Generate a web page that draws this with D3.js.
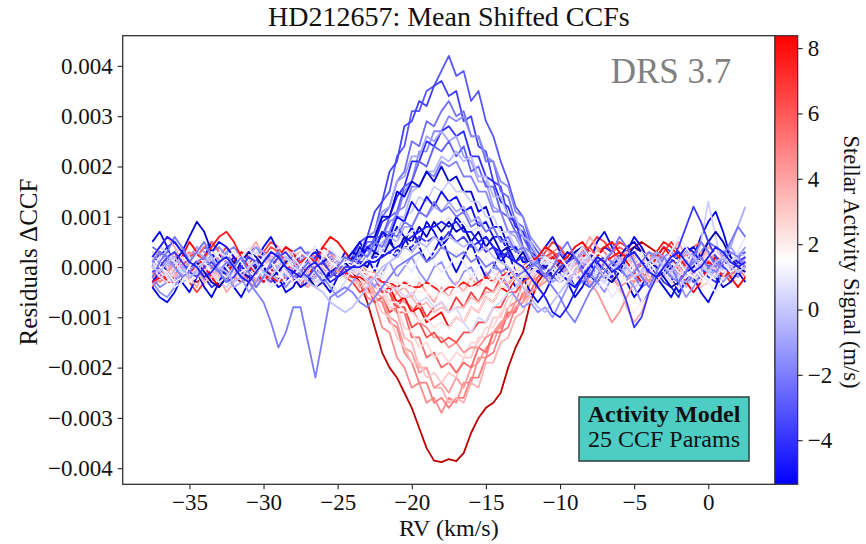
<!DOCTYPE html>
<html><head><meta charset="utf-8">
<script src="https://cdn.jsdelivr.net/npm/d3@7"></script>
<style>
body{margin:0;background:#fff}
text{font-family:"Liberation Serif","Times New Roman",serif;fill:#111}
</style>
</head><body>
<svg id="c" width="866" height="544"></svg>
<script>
// ---------------- DATA ----------------
// RV grid (km/s)
const rv = [-37.5,-37,-36.5,-36,-35.5,-35,-34.5,-34,-33.5,-33,-32.5,-32,-31.5,-31,-30.5,-30,-29.5,-29,-28.5,-28,-27.5,-27,-26.5,-26,-25.5,-25,-24.5,-24,-23.5,-23,-22.5,-22,-21.5,-21,-20.5,-20,-19.5,-19,-18.5,-18,-17.5,-17,-16.5,-16,-15.5,-15,-14.5,-14,-13.5,-13,-12.5,-12,-11.5,-11,-10.5,-10,-9.5,-9,-8.5,-8,-7.5,-7,-6.5,-6,-5.5,-5,-4.5,-4,-3.5,-3,-2.5,-2,-1.5,-1,-0.5,0,0.5,1,1.5,2,2.5];
// residual CCF values, in units of 1e-4
const s01 = [2,3,1,-1,-2,0,2,4,3,1,-1,-3,-2,0,1,3,2,0,-2,-3,-1,1,2,1,0,-1,0, 1,3,6,7,13,15,22,24,31,31,35,36,39,42,38,39,33,35,29,26,21,17,12,10,5,3, 1,-1,-3,-2,0,2,3,1,-1,-2,0,2,1,-1,-3,-2,0,1,3,2,0,-1,1,2,0,-2,-1,1];
const s02 = [-2,-1,1,3,4,2,0,-1,-3,-4,-2,0,2,3,1,-1,0,2,4,3,1,-1,-2,0,1,-1,-2, 2,5,6,11,13,19,21,28,29,33,32,36,37,34,35,29,30,24,23,17,16,10,9,4,3,0, -1,0,2,1,-1,-3,-4,-2,1,3,2,0,-2,-1,1,2,4,3,1,-1,-3,-2,0,2,3,1,0,2];
const s03 = [4,3,1,0,-2,-3,-1,1,2,0,-2,-1,1,3,4,2,-1,-3,-2,0,2,3,1,-1,-2,0,1, 0,2,5,5,10,12,17,19,25,24,29,28,31,33,30,31,26,26,21,21,15,14,9,8,4,2, 0,-2,-3,-1,2,4,3,0,-2,-1,1,0,-2,-4,-3,-1,1,2,0,-1,1,3,5,4,2,0,-1,0];
const s04 = [-3,-2,0,2,1,-1,-2,0,3,4,2,0,-1,-3,-2,1,2,3,1,-1,-3,-4,-2,0,2,1,-1, 0,2,1,5,6,9,10,15,17,23,23,27,27,30,29,30,26,26,22,21,17,16,11,10,6,4, 2,0,-1,1,3,2,0,-2,-3,-1,0,2,1,-2,-3,-1,2,3,1,0,-2,-1,1,3,2,-1,-2,0];
const s05 = [0,2,4,5,3,1,-1,-2,-4,-3,-1,1,0,-2,-1,1,3,2,0,-2,-3,-1,2,3,1,0,-1, 1,1,4,5,9,10,14,16,21,21,25,24,27,28,26,27,22,22,18,17,13,12,8,7,3,2, -2,-1,0,2,1,-1,0,2,4,3,1,-1,-2,0,1,-1,-3,-4,-6,-2,1,0,-2,-3,-1,1,2,3];
const s06 = [1,-1,-2,-1,1,2,4,3,1,-1,-2,-4,-3,0,2,1,-1,0,2,1,-1,-3,-2,0,1,2,0, 2,3,6,7,11,12,17,18,22,22,26,25,27,25,26,22,21,17,17,12,11,7,6,3,2,0, 1,2,0,-2,-4,-3,-1,1,2,1,-1,-2,0,2,3,1,-1,-2,-1,1,0,-2,-1,1,3,4,2,1];
const s07 = [3,1,0,-2,-3,-2,0,1,3,2,0,-1,1,2,0,-2,-3,-1,1,3,4,2,0,-1,-2,-1,1, -1,2,3,6,6,10,11,16,17,21,20,24,23,25,22,24,19,20,16,16,11,10,7,6,3,1, -1,-3,-2,0,1,3,2,0,-2,-1,1,3,2,0,-1,0,2,1,-1,-3,-2,0,2,1,-1,0,2,3];
const s08 = [-1,0,1,-1,-3,-2,0,2,3,1,0,-2,-1,1,2,0,-1,-3,-2,0,1,-1,-2,0,2,1,0, 1,0,2,2,5,6,10,10,15,16,19,19,22,21,23,21,22,18,18,14,14,10,10,6,5,2, 2,1,-1,-2,0,1,-1,-3,-2,0,2,3,1,-1,0,2,1,-1,-2,-4,-2,0,1,-1,0,2,1,-1];
const s09 = [-2,-4,-3,-1,0,2,1,-1,-2,0,3,4,2,0,-2,-3,-1,0,2,1,-1,-2,0,1,3,2,0, 1,0,3,3,7,7,11,12,16,16,19,18,21,20,21,18,18,15,15,11,11,7,7,4,3,1, 0,2,3,1,-1,-3,-2,0,2,1,-1,0,-2,-3,-1,1,2,0,-1,1,3,2,0,-2,-1,0,1,-1];
const s10 = [0,3,2,1,3,6,9,7,3,0,2,1,-1,-2,0,1,3,2,0,-2,-4,-3,-1,1,2,0,1, 3,2,6,6,10,10,15,14,17,16,19,17,20,17,18,15,15,11,12,8,8,4,4,1,1,-1, -2,-1,1,3,2,0,-2,-3,-1,0,2,4,5,3,1,-1,-2,0,1,3,4,2,0,-2,-4,-3,-1,0];
const s11 = [2,4,3,1,-1,0,2,1,-1,-3,-4,-2,0,1,3,2,0,-1,1,3,2,-1,-3,-2,0,1,2, -1,1,1,4,4,7,7,10,11,14,13,16,15,17,15,15,13,13,10,10,7,7,4,4,2,0, 1,-1,-2,0,2,1,-1,0,2,3,1,-2,-4,-3,-1,0,2,1,0,-2,-1,5,13,6,-1,1,3,2];
const s12 = [-3,-1,1,2,0,-2,-1,1,3,5,4,2,0,-1,1,0,-2,-4,-3,-1,0,2,3,1,-1,-2,-1, 2,1,4,3,7,6,10,9,13,11,14,12,15,13,14,11,12,8,9,6,6,3,4,1,1,-1, 0,1,-1,-3,-4,-2,0,1,-1,-2,0,2,3,1,0,-2,-1,1,2,4,3,1,-1,-2,0,2,1,0];
const s13 = [1,0,-2,-3,-1,1,3,2,0,-1,-3,-2,0,2,4,3,1,-1,-2,0,-1,-3,-2,0,2,1,0, 0,2,0,3,3,6,5,8,8,11,10,12,11,13,11,12,9,10,7,8,5,5,3,3,1,1, -1,-3,-2,0,1,3,2,0,-1,1,2,0,-2,-1,1,3,2,0,-2,-3,-1,1,0,-2,1,4,8,12];
const s14 = [0,-2,-3,-1,1,2,0,-1,1,3,2,0,-2,-3,-1,2,3,1,-1,-2,0,1,-1,-2,0,2,1, 1,-1,2,1,4,3,5,6,7,8,7,9,8,10,8,9,7,8,5,6,4,4,2,3,1,0, 2,0,-1,1,2,0,-2,-4,-3,-1,1,0,-1,1,3,2,0,-1,-3,-2,0,1,-1,0,2,1,-1,1];
const s15 = [2,1,-1,-3,-2,0,1,-1,-3,-4,-2,0,1,3,2,0,-2,-1,1,2,0,-2,-4,-3,-1,0,1, -1,1,0,3,2,5,3,6,5,8,6,9,7,9,7,8,5,7,4,6,3,4,1,3,0,1, 0,-2,-1,1,3,4,2,0,-2,-3,-1,2,4,3,1,0,-2,-4,-3,-1,0,2,5,7,5,2,0,-1];
const s16 = [-1,0,2,3,1,-1,-2,0,1,-1,-3,-2,0,2,1,-1,0,2,3,1,-1,-2,0,1,-1,-2,0, 0,1,1,2,2,3,2,4,4,6,5,6,5,7,5,6,4,5,3,4,2,3,1,2,0,1, -1,-2,0,1,2,0,-2,1,2,0,-3,-7,-12,-10,-5,-2,0,1,4,8,12,9,5,2,0,-1,1,2];
const s17 = [1,3,2,0,-2,-1,1,2,0,-1,1,0,-2,-3,-5,-7,-11,-16,-13,-8,-8,-15,-22,-14,-6,-5,-4, -5,-7,-8,-6,-4,-2,0,1,2,3,1,2,4,3,2,3,1,2,0,1,-1,0,-2,-1,0,1, -2,-4,-6,-9,-11,-8,-5,-3,-1,1,0,-2,-1,1,3,2,0,-2,-3,-1,1,2,0,-1,1,3,2,0];
const s18 = [2,0,-1,-3,-2,0,2,1,-1,0,2,3,1,-1,-2,0,1,-1,-3,-2,0,2,4,3,1,0,1, 1,0,2,1,3,2,4,3,5,4,5,3,4,5,3,4,2,3,1,2,0,1,-1,0,1,0, -1,1,2,0,-2,-1,1,3,2,0,-1,-3,-2,0,1,-1,0,2,1,-1,-2,0,2,3,1,-1,0,1];
const s19 = [-1,1,2,0,-2,-3,-1,1,3,2,0,-2,-1,0,2,1,-1,-2,0,1,3,2,0,-1,-3,-2,-1, 0,-1,-2,0,-1,-3,-2,-4,-3,-2,-4,-3,-5,-3,-4,-2,-3,-1,-3,-2,0,-1,1,0,-1,0, 2,1,-1,-2,0,1,3,2,0,-1,-3,-2,0,2,1,0,-2,-1,1,2,0,-2,-3,-1,1,2,0,-1];
const s20 = [0,2,3,1,-1,-2,0,1,-1,-3,-2,0,2,1,-1,0,1,3,2,0,-1,-3,-4,-2,-3,-5,-3, 0,-1,-3,-2,-4,-5,-4,-6,-5,-7,-6,-8,-7,-9,-8,-11,-13,-10,-11,-8,-7,-5,-4,-2,-1,0, 1,0,-2,-1,1,2,0,-2,-3,-1,0,2,1,-1,0,1,-1,-3,-2,0,2,1,-1,-2,0,1,2,0];
const s21 = [-3,-2,-3,-2,-1,-2,-3,-2,-1,0,-1,-2,-3,-2,-1,0,1,0,-1,-2,-1,0,1,0,-1,-1,0, -1,-3,-7,-12,-17,-20,-22,-25,-28,-32,-36,-38.5,-38.8,-38.2,-38.6,-37,-33,-30,-28,-27,-25,-20,-16,-13,-7,-3, -1,0,1,2,1,0,1,3,4,3,2,3,4,5,4,3,2,1,0,-1,0,1,2,1,-1,-2,-1,0];
const s22 = [2,3,1,-1,0,2,4,3,1,-1,-2,0,1,-1,-3,-2,0,2,3,1,0,-2,-1,1,0,-1,-2, -2,-3,-6,-7,-12,-13,-18,-20,-24,-23,-27,-26,-29,-26,-27,-23,-23,-18,-18,-13,-12,-8,-7,-3,-2,0, 1,3,4,2,0,-1,1,2,0,-2,-4,-3,-1,1,2,0,-1,1,3,2,0,-2,-1,1,2,0,-1,0];
const s23 = [-1,-3,-2,0,2,3,1,-1,-2,0,2,1,-1,-3,-4,-2,0,1,-1,0,2,3,2,0,-2,-1,0, -1,-2,-3,-6,-7,-11,-12,-17,-19,-23,-23,-27,-26,-28,-26,-26,-22,-22,-18,-17,-13,-12,-8,-7,-3,-2, 0,2,1,-1,-2,0,2,4,3,1,0,-2,-3,-1,1,0,-2,-1,1,3,4,2,0,-2,-1,1,0,-2];
const s24 = [1,0,-2,-3,-1,1,2,0,-2,-1,1,3,2,0,-1,-3,-2,0,1,-1,-2,0,2,1,-1,0,1, 0,-1,-1,-4,-5,-8,-9,-14,-15,-20,-20,-24,-24,-27,-26,-27,-23,-24,-19,-19,-15,-14,-10,-9,-5,-4, -2,-1,1,2,0,-1,-3,-2,0,1,3,2,0,-1,1,2,0,-2,-3,-1,0,2,1,-1,-2,0,2,1];
const s25 = [3,2,0,-1,-3,-2,0,1,3,2,0,-1,-2,0,2,3,1,-1,-3,-2,0,1,2,0,-2,-1,1, 0,-2,-2,-5,-6,-10,-11,-16,-17,-21,-20,-24,-23,-25,-22,-24,-20,-19,-16,-15,-11,-10,-7,-6,-3,-1, 2,3,1,-1,0,2,1,-1,-2,0,2,3,1,-1,-3,-2,0,1,-1,0,2,3,1,-1,-2,-1,1,2];
const s26 = [0,-1,1,3,4,2,0,-2,-3,-1,1,2,0,-2,-1,1,2,0,-1,-3,-2,0,1,3,2,0,-1, -2,-2,-5,-6,-9,-10,-14,-16,-19,-19,-22,-21,-23,-21,-22,-18,-18,-14,-14,-10,-10,-6,-5,-2,-2,0, -1,1,2,0,-2,-3,-1,1,2,0,-1,1,3,4,2,0,-2,-1,1,0,-2,-4,-3,-1,1,2,0,-1];
const s27 = [-2,0,1,-1,-2,0,2,4,5,3,1,-1,0,2,1,-1,-3,-2,0,2,3,1,-1,-2,0,1,0, 1,0,-2,-2,-5,-5,-9,-9,-14,-14,-18,-17,-20,-19,-21,-19,-20,-16,-17,-13,-13,-9,-9,-5,-5,-2, -1,1,0,-1,1,3,2,0,1,3,4,3,1,0,2,3,1,-1,0,2,4,5,3,1,-1,-2,0,1];
const s28 = [1,2,0,-2,-1,1,3,2,0,-1,-3,-2,0,1,-1,0,2,4,3,1,-1,-2,0,2,1,-1,-2, 0,-2,-2,-4,-5,-8,-8,-12,-13,-16,-15,-18,-17,-19,-17,-18,-15,-15,-12,-12,-9,-8,-5,-5,-2,-1, 0,-2,-1,1,2,0,-1,-3,-2,0,1,-1,-2,0,2,1,-1,-3,-4,-2,0,1,3,2,0,-2,-1,1];
const s29 = [-2,-3,-1,1,2,0,-2,-1,1,3,2,0,-1,-3,-2,0,1,3,2,0,-2,-1,0,2,1,-1,0, 0,1,-1,-1,-3,-3,-5,-7,-8,-11,-12,-14,-14,-16,-15,-17,-16,-16,-14,-13,-11,-10,-8,-7,-5,-4, -3,-1,0,2,1,-1,-3,-5,-8,-11,-9,-6,-3,-1,1,0,-2,-1,1,2,0,-1,1,3,2,0,-1,0];
const s30 = [0,-2,-3,-2,0,2,3,1,-1,0,2,1,-1,-2,0,2,4,3,1,-1,-2,0,1,-1,-3,-2,0, 0,-1,-3,-2,-5,-5,-8,-8,-12,-11,-14,-13,-15,-14,-15,-13,-13,-11,-11,-8,-8,-5,-5,-3,-2,0, 2,3,2,0,1,3,4,2,1,3,2,0,-1,1,3,2,0,-1,-2,0,2,1,-1,0,2,1,-1,0];
const s31 = [1,-1,-2,0,2,1,-1,-3,-2,0,1,3,2,0,-2,-1,1,2,0,-2,-3,-1,1,0,-1,1,2, -1,-2,-2,-4,-4,-7,-7,-9,-9,-11,-10,-12,-11,-12,-10,-11,-8,-9,-6,-7,-4,-4,-2,-2,0,0, -1,-2,0,1,-1,-2,0,2,1,-1,-2,-1,1,3,2,0,-1,1,2,0,-2,-3,-1,0,2,1,-1,0];
const s32 = [2,1,-1,-2,0,1,-1,-3,-2,0,2,3,1,-1,-2,0,2,1,-1,0,1,-1,-2,0,1,2,1, 0,-1,-1,-2,-3,-4,-4,-6,-6,-8,-7,-9,-8,-9,-8,-8,-6,-7,-5,-5,-3,-3,-2,-1,0,0, 0,1,2,0,-2,-1,1,2,0,-1,1,3,2,0,-2,-3,-1,1,0,-2,-1,1,2,0,-1,0,1,-1];
const s33 = [-3,-2,-3,-3,-2,-1,0,2,4,6,7,5,2,0,-1,0,-2,-3,-2,0,1,2,1,0,-1,-2,-1, -2,-2,-3,-2,-3,-3,-4,-3,-4,-4,-3,-4,-5,-4,-4,-3,-4,-3,-2,-3,-2,-1,-1,0,-1,0, 1,2,1,0,1,2,3,2,1,2,3,2,1,0,1,3,5,4,2,0,-1,0,1,0,-2,-1,0,1];
const s34 = [-1,1,2,1,-1,-3,-2,0,1,-1,-2,0,2,3,1,-1,0,1,-1,-3,-2,0,1,0,-1,0,1, 0,-1,-1,-2,-2,-3,-3,-4,-4,-5,-5,-6,-5,-6,-5,-5,-4,-4,-3,-3,-2,-2,-1,-1,0,0, 1,0,-2,-3,-1,1,2,0,-1,-3,-5,-7,-9,-7,-4,-2,0,1,-1,-2,0,1,2,0,-1,1,0,-1];
const s35 = [2,4,6,5,3,1,0,-2,-1,1,2,0,-2,-3,-1,1,3,2,0,-1,-2,0,1,-1,-3,-2,-1, 0,0,1,1,2,3,4,5,6,7,8,8,9,8,9,7,7,5,6,4,3,2,1,0,-2,-4, -6,-9,-10,-8,-5,-2,0,2,1,-1,0,2,3,1,-1,-2,0,2,3,1,-1,0,2,4,3,1,0,1];
const s36 = [0,-1,1,2,0,-2,-1,1,2,0,-1,-3,-2,0,1,-1,-2,0,2,1,-1,-3,-4,-5,-7,-8,-9, -8,-6,-4,-2,0,1,2,4,3,5,4,6,5,6,5,4,5,3,4,2,1,0,-2,-4,-6,-8, -9,-7,-5,-3,-1,1,2,0,-2,-1,1,0,-2,-1,1,2,0,-1,1,3,2,0,-1,1,2,0,-1,0];
const s37 = [5,7,4,0,-3,-5,-2,2,5,3,-1,-4,-6,-3,1,4,6,3,-1,-3,-1,2,0,-3,-5,-2,1, 3,5,2,4,7,5,8,6,3,5,9,7,4,6,10,8,5,3,6,4,1,3,-1,-3,-1,2, 4,6,3,-1,-4,-2,1,5,7,4,0,-3,-6,-4,0,3,1,-2,-5,-3,2,6,9,11,7,2,-1,1];
const s38 = [-4,-2,1,3,0,-3,-5,-3,0,2,4,2,-1,-2,1,3,5,4,1,-2,-4,-1,2,4,3,0,-2, -3,-5,-4,-7,-6,-9,-8,-6,-9,-7,-10,-8,-7,-9,-6,-8,-5,-7,-4,-5,-2,-4,-1,0,2,1, 3,5,4,1,-1,2,4,6,5,3,5,4,2,-1,-3,0,3,5,3,0,-2,1,3,2,-1,-3,-1,1];
const s39 = [-3,-5,-6,-4,-1,2,0,-3,-2,1,3,0,-2,-5,-3,0,2,-1,-4,-2,1,3,1,-2,-4,-6,-5, -3,-1,-2,-4,-1,1,-2,0,2,-1,-3,0,1,-2,-4,-1,0,-3,-2,0,-1,-4,-6,-8,-7,-9, -8,-10,-7,-4,-1,1,-1,-3,-5,-2,0,-2,-4,-7,-5,-2,0,-1,-3,-6,-4,-1,1,-1,-3,-1,2,4];
const s40 = [1,4,6,4,1,-2,-4,-1,1,-2,-5,-3,0,3,5,2,-1,1,4,2,-1,-4,-2,1,3,1,-1, -2,-4,-3,-6,-4,-7,-5,-4,-6,-3,-5,-7,-4,-6,-3,-5,-2,-4,-1,-3,0,-2,1,-1,0,2, 4,2,-1,-3,0,3,6,4,1,-1,-4,-8,-11,-9,-5,-2,1,3,5,2,-1,1,4,3,0,-2,0,2];
const s41 = [-4,-6,-7,-5,-2,1,-1,-4,-6,-3,0,2,-1,-3,0,3,1,-2,-5,-4,-1,2,4,1,-2,0,3, 1,4,2,-1,3,6,2,5,8,4,1,3,6,2,-1,2,5,1,-2,0,3,-1,-4,-2,-5,-7, -5,-2,0,-3,-6,-4,-1,2,0,-3,-1,3,6,4,1,-2,-4,-6,-3,0,-2,-5,-7,-4,0,2,-1,-3];
const s42 = [2,0,-3,-1,2,5,3,0,-2,-4,-2,1,3,2,-1,-3,-1,2,4,3,0,-2,1,4,6,5,3, 1,-1,-3,-2,-5,-4,-7,-6,-9,-8,-11,-10,-9,-12,-10,-11,-8,-9,-6,-7,-4,-5,-2,-1,1,2, 4,3,1,2,4,5,3,2,4,5,3,1,-1,-3,-1,2,4,2,-1,-3,-5,-3,0,2,1,-2,-4,-2];
const s43 = [3,1,-2,-4,-3,0,3,5,2,-1,-3,-1,2,4,1,-2,-4,-3,0,2,0,-2,-1,2,4,2,0, -1,1,3,0,-2,1,3,1,-1,2,4,1,-1,0,3,1,-2,0,2,-1,-3,-1,1,-1,-2,0, 2,-1,-3,-1,2,4,2,-1,-3,-6,-4,-1,1,3,0,-2,1,3,6,4,1,-1,-3,-5,-2,1,3,6];
const s44 = [-2,1,3,6,4,1,3,5,2,-1,-3,0,2,-1,-4,-2,1,3,0,-2,-1,1,-1,-3,-2,0,2, 1,3,2,5,4,7,6,9,8,11,10,13,11,12,10,11,8,9,7,8,5,6,3,4,1,0, -2,0,3,5,2,-1,-4,-2,1,3,6,4,1,-2,-4,-1,2,0,-3,-1,2,5,3,0,2,5,8,6];

// series in drawing order, and the stellar activity signal (m/s) of each one
const seriesList = [s21,s01,s22,s02,s38,s23,s03,s37,s24,s04,s25,s05,s40,s26,s06,s27,s07,s41,s28,s08,s29,s09,s42,s30,s10,s31,s11,s39,s32,s12,s33,s13,s34,s14,s19,s15,s43,s20,s16,s18,s17,s44,s36,s35];
const activity   = [10.5,-3.0,4.6,-3.6,6.8,5.0,-2.4,-5.8,3.6,-1.6,4.2,-4.2,3.8,3.0,-1.0,5.6,-2.8,-6.0,2.6,-0.4,4.4,-1.8,8.3,6.4,-6.5,2.3,0.2,-1.4,3.4,-5.0,7.8,-0.8,2.0,0.8,1.8,-7.5,0.9,0.5,-3.8,1.4,-2.0,-2.2,-0.2,-4.6];

const xTicks = [-35,-30,-25,-20,-15,-10,-5,0];
const yTicks = [-0.004,-0.003,-0.002,-0.001,0,0.001,0.002,0.003,0.004];
const cbTicks = [-4,-2,0,2,4,6,8];
const cbMin = -5.35, cbMax = 8.38;
const UNIT = 1e-4;

// ---------------- DRAW ----------------
const svg = d3.select("#c");
const P = {l:122.7, r:775, t:35.7, b:484.3};
const x = d3.scaleLinear().domain([-39.5, 4.5]).range([P.l, P.r]);
const y = d3.scaleLinear().domain([-0.00432, 0.0046]).range([P.b, P.t]);
const cbMid = (cbMin + cbMax) / 2;
const color = d3.scaleLinear()
  .domain([-9, cbMin, cbMid, cbMax, 12])
  .range(["#00007a", "#0000ff", "#ffffff", "#ff0000", "#8b0000"])
  .clamp(true);

const line = d3.line().x((d, i) => x(rv[i])).y(d => y(d * UNIT));

svg.append("g").selectAll("path").data(seriesList).join("path")
  .attr("d", d => line(d))
  .attr("fill", "none")
  .attr("stroke", (d, i) => color(activity[i]))
  .attr("stroke-width", 1.8)
  .attr("stroke-linejoin", "round");

// axes
const fs = 23;
const gx = svg.append("g").attr("transform", `translate(0,${P.b})`)
  .call(d3.axisBottom(x).tickValues(xTicks).tickSize(5).tickPadding(4).tickFormat(d3.format("d")));
const gy = svg.append("g").attr("transform", `translate(${P.l},0)`)
  .call(d3.axisLeft(y).tickValues(yTicks).tickSize(5).tickPadding(5).tickFormat(d3.format(".3f")));
[gx, gy].forEach(g => {
  g.select(".domain").remove();
  g.selectAll(".tick line").attr("stroke", "#222").attr("stroke-width", 1.1);
  g.selectAll(".tick text").attr("font-size", fs).attr("font-family", "Liberation Serif, serif").attr("fill", "#111");
});

// frame
svg.append("rect").attr("x", P.l).attr("y", P.t).attr("width", P.r - P.l).attr("height", P.b - P.t)
  .attr("fill", "none").attr("stroke", "#333").attr("stroke-width", 1.3);

// colorbar
const cbX = 775, cbW = 22.7;
const cbScale = d3.scaleLinear().domain([cbMin, cbMax]).range([P.b, P.t]);
const defs = svg.append("defs");
const grad = defs.append("linearGradient").attr("id", "cbgrad")
  .attr("x1", 0).attr("y1", 1).attr("x2", 0).attr("y2", 0);
d3.range(0, 1.0001, 0.05).forEach(f => {
  grad.append("stop").attr("offset", f).attr("stop-color", color(cbMin + f * (cbMax - cbMin)));
});
svg.append("rect").attr("x", cbX).attr("y", P.t).attr("width", cbW).attr("height", P.b - P.t)
  .attr("fill", "url(#cbgrad)").attr("stroke", "#333").attr("stroke-width", 1.2);
const gc = svg.append("g").attr("transform", `translate(${cbX + cbW},0)`)
  .call(d3.axisRight(cbScale).tickValues(cbTicks).tickSize(5).tickPadding(5).tickFormat(d3.format("d")));
gc.select(".domain").remove();
gc.selectAll(".tick line").attr("stroke", "#222").attr("stroke-width", 1.1);
gc.selectAll(".tick text").attr("font-size", fs).attr("font-family", "Liberation Serif, serif").attr("fill", "#111");

// titles & labels
svg.append("text").attr("x", (P.l + P.r) / 2).attr("y", 26).attr("text-anchor", "middle")
  .attr("font-size", 28).text("HD212657: Mean Shifted CCFs");
svg.append("text").attr("x", (P.l + P.r) / 2).attr("y", 536).attr("text-anchor", "middle")
  .attr("font-size", 24).text("RV (km/s)");
svg.append("text").attr("transform", "translate(28,262) rotate(-90)").attr("text-anchor", "middle")
  .attr("dominant-baseline", "central").attr("font-size", 25).text("Residuals ΔCCF");
svg.append("text").attr("transform", "translate(851,262) rotate(90)").attr("text-anchor", "middle")
  .attr("dominant-baseline", "central").attr("font-size", 22.5).text("Stellar Activity Signal (m/s)");

// DRS annotation
svg.append("text").attr("x", 671).attr("y", 83).attr("text-anchor", "middle")
  .attr("font-size", 35).style("fill", "#808080").text("DRS 3.7");

// model box
svg.append("rect").attr("x", 579).attr("y", 397).attr("width", 170).attr("height", 64)
  .attr("fill", "#4ecdc4").attr("stroke", "#2f3f3f").attr("stroke-width", 1.5);
svg.append("text").attr("x", 664).attr("y", 421.5).attr("text-anchor", "middle")
  .attr("font-size", 24).attr("font-weight", "bold").text("Activity Model");
svg.append("text").attr("x", 664).attr("y", 447).attr("text-anchor", "middle")
  .attr("font-size", 24).text("25 CCF Params");

// sanity check on series lengths
const bad = seriesList.map((s, i) => [i, s.length]).filter(d => d[1] !== rv.length);
if (bad.length) throw new Error("bad series lengths: " + JSON.stringify(bad));
</script>
</body></html>
